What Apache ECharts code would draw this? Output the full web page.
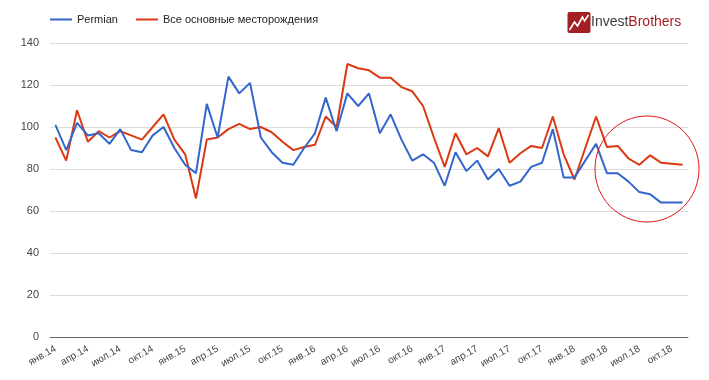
<!DOCTYPE html>
<html>
<head>
<meta charset="utf-8">
<script src="https://cdn.jsdelivr.net/npm/echarts@6/dist/echarts.min.js"></script>
<style>
html,body{margin:0;padding:0;background:#fff;}
#chart{width:709px;height:380px;}
</style>
</head>
<body>
<div id="chart"></div>
<script>
var categories = [
  'янв.14','фев.14','мар.14','апр.14','май.14','июн.14','июл.14','авг.14','сен.14','окт.14','ноя.14','дек.14',
  'янв.15','фев.15','мар.15','апр.15','май.15','июн.15','июл.15','авг.15','сен.15','окт.15','ноя.15','дек.15',
  'янв.16','фев.16','мар.16','апр.16','май.16','июн.16','июл.16','авг.16','сен.16','окт.16','ноя.16','дек.16',
  'янв.17','фев.17','мар.17','апр.17','май.17','июн.17','июл.17','авг.17','сен.17','окт.17','ноя.17','дек.17',
  'янв.18','фев.18','мар.18','апр.18','май.18','июн.18','июл.18','авг.18','сен.18','окт.18','ноя.18'
];
var permian = [101, 89, 102, 96, 97, 92, 99, 89, 88, 96, 100, 90,
  82, 78, 111, 95, 124, 116, 121, 95, 88, 83, 82, 90,
  97, 114, 98, 116, 110, 116, 97, 106, 94, 84, 87, 83,
  72, 88, 79, 84, 75, 80, 72, 74, 81, 83, 99, 76,
  76, 84, 92, 78, 78, 74, 69, 68, 64, 64, 64];
var allFields = [95, 84, 108, 93, 98, 95, 98, 96, 94, 100, 106, 94,
  87, 66, 94, 95, 99, 101.5, 99, 100, 97.5, 93, 89, 90.5,
  91.5, 105, 100, 130, 128, 127, 123.5, 123.5, 119, 117, 110, 95,
  81, 97, 87, 90, 86, 99.5, 83, 87.5, 91, 90, 105, 87,
  75, 90, 105, 90.5, 91, 85, 82, 86.5, 83, 82.5, 82];
var seriesNames = ['Permian', 'Все основные месторождения'];
var seriesColors = ['#3366cc', '#dc3912'];
var yTicks = {min: 0, max: 140, interval: 20};

var chart = echarts.init(document.getElementById('chart'), null, {renderer: 'canvas'});
var font = 'Arial, "Liberation Sans", sans-serif';
chart.setOption({
  animation: false,
  backgroundColor: '#fff',
  textStyle: {fontFamily: font},
  legend: {
    left: 50, top: 14, padding: 0,
    itemWidth: 22, itemHeight: 2, itemGap: 18,
    icon: 'rect',
    textStyle: {fontSize: 11, color: '#222', fontFamily: font},
    data: seriesNames
  },
  grid: {left: 50, right: 21, top: 43, bottom: 43, containLabel: false},
  xAxis: {
    type: 'category',
    data: categories,
    boundaryGap: true,
    axisTick: {show: false},
    axisLine: {lineStyle: {color: '#666', width: 1}},
    axisLabel: {interval: 2, rotate: 30, fontSize: 10, color: '#444', margin: 11, fontFamily: font},
    splitLine: {show: false}
  },
  yAxis: {
    type: 'value',
    min: yTicks.min, max: yTicks.max, interval: yTicks.interval,
    axisLine: {show: false},
    axisTick: {show: false},
    axisLabel: {fontSize: 11, color: '#444', margin: 11, fontFamily: font},
    splitLine: {lineStyle: {color: '#dcdcdc', width: 1}}
  },
  series: [
    {name: seriesNames[0], type: 'line', data: permian, showSymbol: false, symbol: 'none',
     color: seriesColors[0], lineStyle: {width: 2, color: seriesColors[0]}, z: 3},
    {name: seriesNames[1], type: 'line', data: allFields, showSymbol: false, symbol: 'none',
     color: seriesColors[1], lineStyle: {width: 2, color: seriesColors[1]}, z: 2}
  ],
  graphic: [
    {type: 'ellipse', shape: {cx: 647, cy: 169, rx: 52, ry: 53},
     style: {fill: 'none', stroke: '#e3141b', lineWidth: 1}, z: 10},
    {type: 'group', left: 567, top: 12, children: [
      {type: 'rect', shape: {x: 0, y: 0, width: 23, height: 21, r: 2}, style: {fill: '#a31f24'}},
      {type: 'polyline', shape: {points: [[2, 18], [7, 10], [10, 14], [15, 5], [17, 9], [21, 3]]},
       style: {stroke: '#fff', lineWidth: 1.6, fill: 'none'}}
    ]},
    {type: 'text', left: 591, top: 15, style: {
      text: '{a|Invest}{b|Brothers}',
      rich: {
        a: {fontSize: 14, fill: '#3a3a3a', fontFamily: font},
        b: {fontSize: 14, fill: '#a31f24', fontFamily: font}
      }
    }}
  ]
});
</script>
</body>
</html>
